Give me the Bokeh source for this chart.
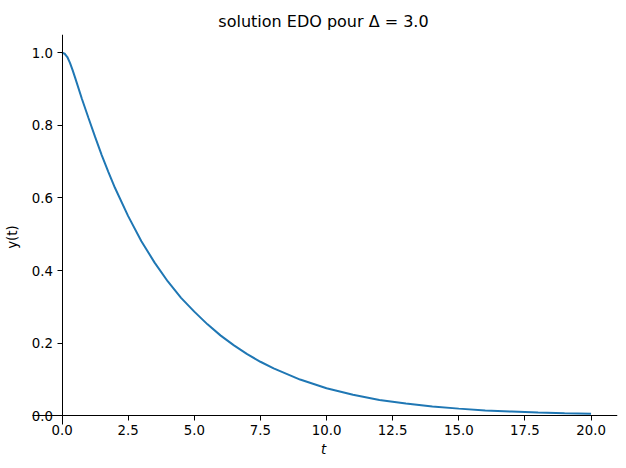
from bokeh.plotting import figure
from bokeh.models import Range1d, LinearAxis, FixedTicker, PrintfTickFormatter
from bokeh.embed import file_html
from bokeh.resources import INLINE

# values
t_vals = [0.0, 0.1, 0.2, 0.3, 0.4, 0.5, 0.75, 1.0, 1.25, 1.5, 1.75, 2.0, 2.5, 3.0, 3.5, 4.0, 4.5,
          5.0, 5.5, 6.0, 6.5, 7.0, 7.5, 8.0, 9.0, 10.0, 11.0, 12.0, 13.0, 14.0, 15.0, 16.0,
          17.0, 18.0, 19.0, 20.0]
y_vals = [1.0, 0.997, 0.988, 0.972, 0.952, 0.93, 0.873, 0.82, 0.768, 0.718, 0.672, 0.628, 0.55,
          0.481, 0.422, 0.37, 0.325, 0.287, 0.252, 0.221, 0.194, 0.170, 0.149, 0.131, 0.100,
          0.076, 0.058, 0.044, 0.034, 0.026, 0.020, 0.015, 0.012, 0.009, 0.007, 0.006]
x_ticks = [0.0, 2.5, 5.0, 7.5, 10.0, 12.5, 15.0, 17.5, 20.0]
y_ticks = [0.0, 0.2, 0.4, 0.6, 0.8, 1.0]
title_text = "solution EDO pour \u0394 = 3.0"
x_label = "t"
y_label = "y(t)"

FONT = "DejaVu Sans"

p = figure(width=618, height=463, output_backend="svg", toolbar_location=None,
           x_range=Range1d(-1.23, 21), y_range=Range1d(-0.065, 1.05),
           x_axis_type=None, y_axis_type=None,
           min_border_left=29, min_border_right=1, min_border_top=34, min_border_bottom=24)
p.outline_line_color = None
p.grid.visible = False
p.background_fill_color = "white"
p.border_fill_color = "white"

p.title.text = title_text
p.title.align = "center"
p.title.text_font = FONT
p.title.text_font_size = "16px"
p.title.text_font_style = "normal"
p.title.text_color = "black"
p.title.standoff = 8

def style_axis(ax):
    ax.axis_line_color = "black"
    ax.axis_line_width = 1
    ax.major_tick_line_color = "black"
    ax.major_tick_line_width = 1
    ax.major_tick_in = 0
    ax.major_tick_out = 5
    ax.minor_tick_line_color = None
    ax.major_label_text_font = FONT
    ax.major_label_text_font_size = "13.33px"
    ax.major_label_text_color = "black"
    ax.major_label_standoff = 4
    ax.formatter = PrintfTickFormatter(format="%.1f")

def label_axis(text, style, standoff):
    ax = LinearAxis(ticker=FixedTicker(ticks=[]), axis_label=text)
    ax.axis_line_color = None
    ax.major_tick_line_color = None
    ax.minor_tick_line_color = None
    ax.major_tick_out = 0
    ax.major_tick_in = 0
    ax.major_label_text_font_size = "0px"
    ax.axis_label_text_font = FONT
    ax.axis_label_text_font_size = "13.33px"
    ax.axis_label_text_color = "black"
    ax.axis_label_text_font_style = style
    ax.axis_label_standoff = standoff
    return ax

# spines through zero, with their ticks
xa = LinearAxis(fixed_location=0, ticker=FixedTicker(ticks=x_ticks), bounds=(-1.12, 21))
style_axis(xa)
p.add_layout(xa, "below")

ya = LinearAxis(fixed_location=0, ticker=FixedTicker(ticks=y_ticks), bounds=(-0.025, 1.05))
style_axis(ya)
p.add_layout(ya, "left")

# axis titles at the edges of the axes box
p.add_layout(label_axis(x_label, "italic", 2), "below")
p.add_layout(label_axis(y_label, "normal", 10), "left")

p.line(t_vals, y_vals, line_color="#1f77b4", line_width=2)

open("out.html", "w").write(file_html(p, INLINE))
